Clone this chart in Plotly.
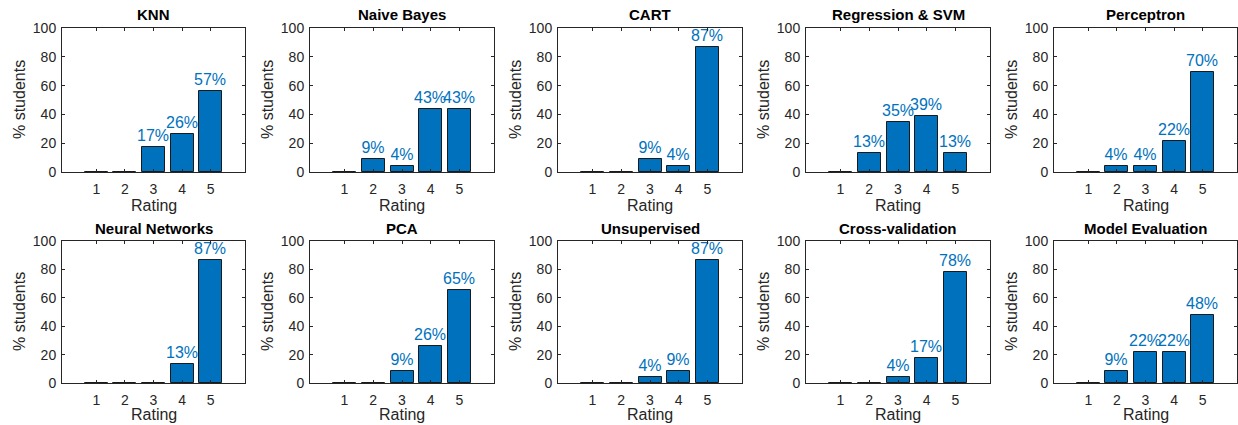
import plotly.graph_objects as go

ratings = [1, 2, 3, 4, 5]
titles = ["KNN", "Naive Bayes", "CART", "Regression & SVM", "Perceptron",
          "Neural Networks", "PCA", "Unsupervised", "Cross-validation", "Model Evaluation"]

knn = [0, 0, 17.4, 26.1, 56.52]
naive_bayes = [0, 8.7, 4.35, 43.48, 43.48]
cart = [0, 0, 8.7, 4.35, 86.96]
regression_svm = [0, 13.04, 34.78, 39.13, 13.04]
perceptron = [0, 4.35, 4.35, 21.74, 69.57]
neural_networks = [0, 0, 0, 13.04, 86.96]
pca = [0, 0, 8.7, 26.09, 65.22]
unsupervised = [0, 0, 4.35, 8.7, 86.96]
cross_validation = [0, 0, 4.35, 17.39, 78.26]
model_evaluation = [0, 8.7, 21.74, 21.74, 47.83]

series = [knn, naive_bayes, cart, regression_svm, perceptron,
          neural_networks, pca, unsupervised, cross_validation, model_evaluation]

y_ticks = [0, 20, 40, 60, 80, 100]
x_label = "Rating"
y_label = "% students"

W, H = 1238, 425
FONT = "Liberation Sans, Arial, Helvetica, sans-serif"
BLUE = "#0072BD"
AX = "#262626"


def px(X):
    return X / W


def py(Y):
    return 1 - Y / H


col_left = [62, 310, 558, 806, 1054]
col_w = [183, 184, 184, 184, 183]
row_top = [28, 241]
row_bot = [172, 383]
title_y = [15, 228]
label_y = [205, 414.5]

fig = go.Figure()
annotations = []
for i, (vals, title) in enumerate(zip(series, titles)):
    r, c = divmod(i, 5)
    n = i + 1
    xa = "x" if n == 1 else f"x{n}"
    ya = "y" if n == 1 else f"y{n}"
    texts = [f"{v:.0f}%" if v > 0 else "" for v in vals]
    fig.add_trace(go.Bar(
        x=ratings, y=vals, width=0.8, xaxis=xa, yaxis=ya,
        marker=dict(color=BLUE, line=dict(color="#1a1a1a", width=1)),
        text=texts, textposition="outside", cliponaxis=False,
        constraintext="none",
        textfont=dict(family=FONT, size=16, color=BLUE),
        showlegend=False, hoverinfo="skip",
    ))
    common = dict(showline=True, linecolor=AX, linewidth=1, mirror="ticks",
                  ticks="inside", ticklen=3, tickcolor=AX, showgrid=False,
                  zeroline=False, automargin=False,
                  tickfont=dict(family=FONT, size=14, color=AX))
    fig.layout[("xaxis" if n == 1 else f"xaxis{n}")] = dict(
        domain=[px(col_left[c]), px(col_left[c] + col_w[c])], anchor=ya,
        range=[-0.2, 6.2], tickvals=ratings, ticklabelstandoff=4, **common)
    fig.layout[("yaxis" if n == 1 else f"yaxis{n}")] = dict(
        domain=[py(row_bot[r]), py(row_top[r])], anchor=xa, range=[0, 100],
        tickvals=y_ticks, ticklabelstandoff=2, **common)
    cx = px(col_left[c] + col_w[c] / 2)
    annotations.append(dict(text=f"<b>{title}</b>", x=cx, y=py(title_y[r]),
                            xref="paper", yref="paper", xanchor="center", yanchor="middle",
                            borderpad=0, showarrow=False,
                            font=dict(family=FONT, size=15, color="black")))
    annotations.append(dict(text=x_label, x=cx, y=py(label_y[r]),
                            xref="paper", yref="paper", xanchor="center", yanchor="middle",
                            borderpad=0, showarrow=False,
                            font=dict(family=FONT, size=16, color=AX)))
    annotations.append(dict(text=y_label, x=px(col_left[c] - 43),
                            y=py((row_top[r] + row_bot[r]) / 2), textangle=-90,
                            xref="paper", yref="paper", xanchor="center", yanchor="middle",
                            borderpad=0, showarrow=False,
                            font=dict(family=FONT, size=16, color=AX)))

fig.update_layout(width=W, height=H, autosize=False,
                  margin=dict(l=0, r=0, t=0, b=0, pad=0, autoexpand=False),
                  paper_bgcolor="white", plot_bgcolor="white",
                  annotations=annotations, bargap=0)

fig.write_html("out.html", config={"displayModeBar": False},
               post_script="document.body.style.margin='0';"
                           "document.documentElement.style.overflow='hidden';")
